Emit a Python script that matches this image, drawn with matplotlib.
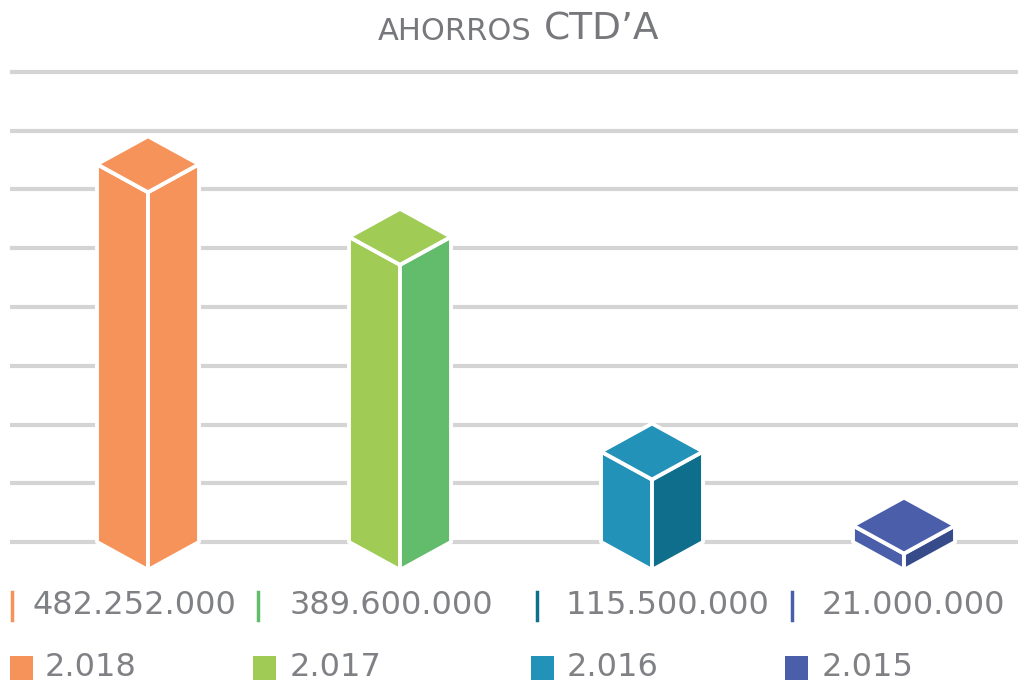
import numpy as np
import matplotlib.pyplot as plt
from matplotlib.patches import Polygon, Rectangle
from matplotlib.lines import Line2D

# data
years = ["2.018", "2.017", "2.016", "2.015"]
savings = [482252000, 389600000, 115500000, 21000000]

# styles
top_colors = ["#F6935A", "#A0CC55", "#2392B8", "#4A5EAA"]
side_colors = ["#F6935A", "#62BC6C", "#0E6E8C", "#374A8A"]
mark_colors = ["#F6935A", "#62BC6C", "#0E6E8C", "#4A5EAA"]
text_gray = "#808184"
grid_gray = "#D4D4D4"

W, H = 1018, 685
fig = plt.figure(figsize=(W / 100, H / 100), dpi=100)


def fx(px):
    return px / W


def fy(py):
    return 1 - py / H


# chart area: 0 sits on pixel row 542, 600 M on row 72
ax_top, ax_bot = 40, 600
k = (542 - 72) / 600.0  # px per million
ax = fig.add_axes([fx(10), fy(ax_bot), (W - 10) / W, (ax_bot - ax_top) / H])
ax.set_xlim(-(148 - 10) / 252, 3 + (W - 904) / 252)
ax.set_ylim(-(ax_bot - 542) / k, 600 + (72 - ax_top) / k)

ax.set_yticks(np.arange(0, 601, 75))
ax.yaxis.grid(True, color=grid_gray, linewidth=3)
ax.set_axisbelow(True)
ax.set_xticks([])
ax.tick_params(left=False, labelleft=False)
for s in ax.spines.values():
    s.set_visible(False)

hw = 51 / 252      # half width of a box in category units
d = 28 / k         # half height of the top diamond in value units
vals = np.array(savings) / 1e6

for i, v in enumerate(vals):
    left = [(i - hw, v), (i, v - d), (i, -d), (i - hw, 0)]
    right = [(i, v - d), (i + hw, v), (i + hw, 0), (i, -d)]
    top = [(i, v + d), (i - hw, v), (i, v - d), (i + hw, v)]
    for pts, col in [(left, top_colors[i]), (right, side_colors[i]), (top, top_colors[i])]:
        ax.add_patch(Polygon(pts, closed=True, facecolor=col, edgecolor="white",
                             linewidth=2.8, joinstyle="round", clip_on=False, zorder=3))

# title, two sizes on one baseline
renderer = fig.canvas.get_renderer()
t1 = fig.text(fx(378), fy(40), "AHORROS", fontsize=22, color="#77787B", va="baseline")
ext = t1.get_window_extent(renderer)
fig.text((ext.x1 + 12) / W, fy(40), "CTD\u2019A", fontsize=27, color="#77787B", va="baseline")

# value labels
mark_x = [12, 258, 537, 792]
label_x = [33, 290, 565, 822]
for i, v in enumerate(savings):
    fig.add_artist(Line2D([fx(mark_x[i]), fx(mark_x[i])], [fy(592), fy(620)],
                          color=mark_colors[i], linewidth=2.5))
    fig.text(fx(label_x[i]), fy(606), f"{v:,}".replace(",", "."),
             fontsize=23, color=text_gray, va="center")

# legend
sq_x = [10, 253, 531, 785]
leg_x = [45, 290, 567, 822]
for i, y in enumerate(years):
    fig.add_artist(Rectangle((fx(sq_x[i]), fy(680)), 23 / W, 24 / H,
                             facecolor=top_colors[i], edgecolor="none"))
    fig.text(fx(leg_x[i]), fy(668), y, fontsize=23, color=text_gray, va="center")

fig.savefig("out.png", dpi=100)
